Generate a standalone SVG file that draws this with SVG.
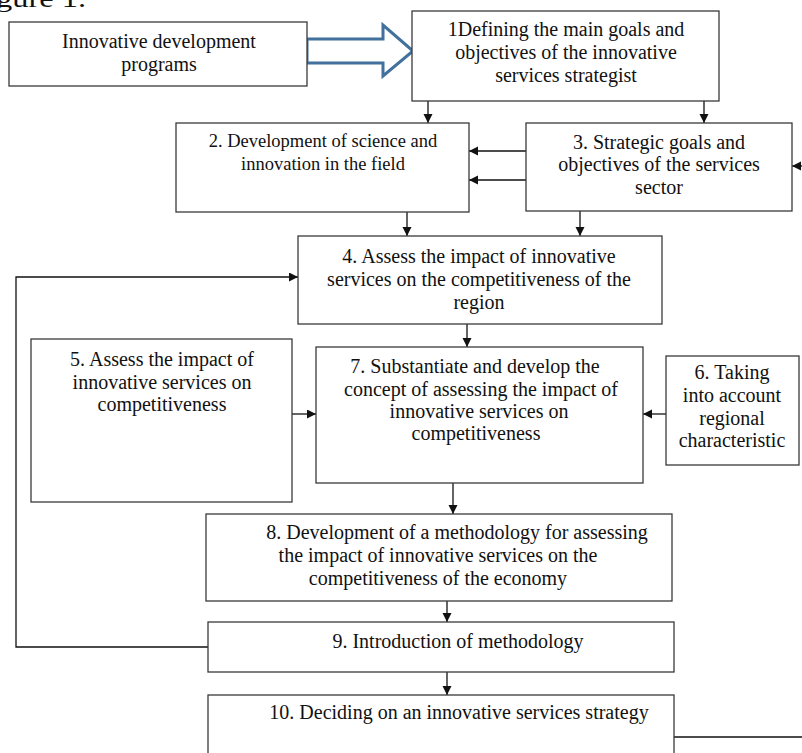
<svg xmlns="http://www.w3.org/2000/svg" width="802" height="753" viewBox="0 0 802 753">
<style>
  .box { fill: #fff; stroke: #3a3a3a; stroke-width: 1.3; }
  .t { font-family: "Liberation Serif", "Times New Roman", serif; font-size: 20px; fill: #111; text-anchor: middle; }
  .t2 { font-size: 18.5px; }
  .c { fill: none; stroke: #111; stroke-width: 1.3; }
  .big { fill: #fff; stroke: #41719C; stroke-width: 3; stroke-linejoin: miter; }
</style>
<defs>
  <marker id="ah" markerUnits="userSpaceOnUse" markerWidth="10" markerHeight="10" refX="9" refY="4.5" orient="auto">
    <path d="M0,0 L9,4.5 L0,9 z" fill="#111"/>
  </marker>
</defs>
<rect width="802" height="753" fill="#fff"/>

<text class="t" x="-4" y="7" style="text-anchor:start;font-size:26px" textLength="90" lengthAdjust="spacingAndGlyphs">gure 1.</text>

<g id="connectors">
  <polygon class="big" points="307,39 383,39 383,25 413,51 383,76 383,63 307,63"/>
  <line class="c" x1="428" y1="101" x2="428" y2="123" marker-end="url(#ah)"/>
  <line class="c" x1="704" y1="101" x2="704" y2="123" marker-end="url(#ah)"/>
  <line class="c" x1="526" y1="151" x2="469" y2="151" marker-end="url(#ah)"/>
  <line class="c" x1="526" y1="180" x2="469" y2="180" marker-end="url(#ah)"/>
  <line class="c" x1="802" y1="166" x2="792" y2="166" marker-end="url(#ah)"/>
  <line class="c" x1="407" y1="212" x2="407" y2="236" marker-end="url(#ah)"/>
  <line class="c" x1="580" y1="211" x2="580" y2="236" marker-end="url(#ah)"/>
  <polyline class="c" points="208,647 16,647 16,277 298,277" marker-end="url(#ah)"/>
  <line class="c" x1="467" y1="324" x2="467" y2="347" marker-end="url(#ah)"/>
  <line class="c" x1="292" y1="414" x2="316" y2="414" marker-end="url(#ah)"/>
  <line class="c" x1="666" y1="414" x2="643" y2="414" marker-end="url(#ah)"/>
  <line class="c" x1="453" y1="483" x2="453" y2="514" marker-end="url(#ah)"/>
  <line class="c" x1="447" y1="601" x2="447" y2="622" marker-end="url(#ah)"/>
  <line class="c" x1="447" y1="672" x2="447" y2="695" marker-end="url(#ah)"/>
  <line class="c" x1="674" y1="737" x2="802" y2="737"/>
</g>

<g id="node-programs">
  <rect class="box" x="9" y="22" width="298" height="64"/>
  <text class="t" x="159" y="48">Innovative development</text>
  <text class="t" x="159" y="71">programs</text>
</g>

<g id="node-1">
  <rect class="box" x="412" y="11" width="307" height="90"/>
  <text class="t" x="566" y="36">1Defining the main goals and</text>
  <text class="t" x="566" y="59">objectives of the innovative</text>
  <text class="t" x="566" y="82">services strategist</text>
</g>

<g id="node-2">
  <rect class="box" x="176" y="123" width="293" height="89"/>
  <text class="t t2" x="323" y="147">2. Development of science and</text>
  <text class="t t2" x="323" y="170">innovation in the field</text>
</g>

<g id="node-3">
  <rect class="box" x="526" y="123" width="266" height="88"/>
  <text class="t" x="659" y="149">3. Strategic goals and</text>
  <text class="t" x="659" y="171">objectives of the services</text>
  <text class="t" x="659" y="194">sector</text>
</g>

<g id="node-4">
  <rect class="box" x="298" y="236" width="364" height="88"/>
  <text class="t" x="479" y="263">4. Assess the impact of innovative</text>
  <text class="t" x="479" y="286">services on the competitiveness of the</text>
  <text class="t" x="479" y="309">region</text>
</g>

<g id="node-5">
  <rect class="box" x="31" y="339" width="261" height="163"/>
  <text class="t" x="162" y="366">5. Assess the impact of</text>
  <text class="t" x="162" y="389">innovative services on</text>
  <text class="t" x="162" y="411">competitiveness</text>
</g>

<g id="node-7">
  <rect class="box" x="316" y="347" width="327" height="136"/>
  <text class="t" x="475" y="373">7. Substantiate and develop the</text>
  <text class="t" x="481" y="396">concept of assessing the impact of</text>
  <text class="t" x="479" y="418">innovative services on</text>
  <text class="t" x="476" y="440">competitiveness</text>
</g>

<g id="node-6">
  <rect class="box" x="666" y="356" width="133" height="109"/>
  <text class="t" x="732" y="379">6. Taking</text>
  <text class="t" x="732" y="402">into account</text>
  <text class="t" x="732" y="425">regional</text>
  <text class="t" x="732" y="447">characteristic</text>
</g>

<g id="node-8">
  <rect class="box" x="206" y="514" width="466" height="87"/>
  <text class="t" x="457" y="539">8. Development of a methodology for assessing</text>
  <text class="t" x="438" y="562">the impact of innovative services on the</text>
  <text class="t" x="438" y="585">competitiveness of the economy</text>
</g>

<g id="node-9">
  <rect class="box" x="208" y="622" width="466" height="50"/>
  <text class="t" x="458" y="648">9. Introduction of methodology</text>
</g>

<g id="node-10">
  <rect class="box" x="208" y="695" width="466" height="70"/>
  <text class="t" x="459" y="719">10. Deciding on an innovative services strategy</text>
</g>
</svg>
